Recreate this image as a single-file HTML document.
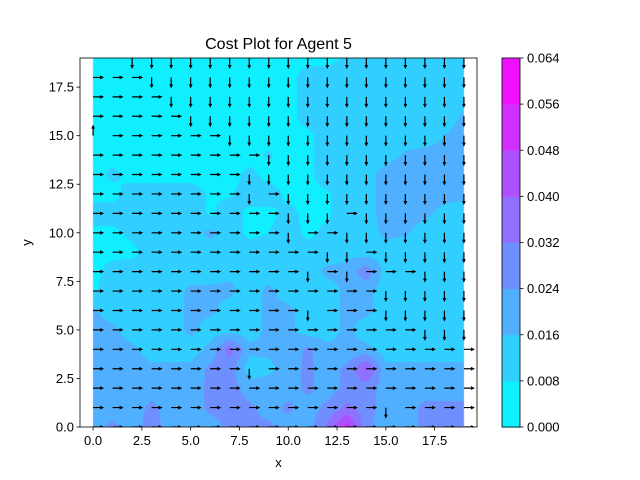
<!DOCTYPE html>
<html><head><meta charset="utf-8"><style>
body{margin:0;background:#fff;}
#wrap{position:relative;width:640px;height:480px;font-family:"Liberation Sans",sans-serif;}
canvas,svg{position:absolute;left:0;top:0;}
</style></head><body>
<div id="wrap">
<canvas id="cv" width="640" height="480"></canvas>
<svg id="sv" width="640" height="480"></svg>
</div>
<script>
// cost values (x1000), rows from y=19 (top) down to y=0
const costRows = [
[5,5,5,5,5,5,5,5,5,5,5,5,5,10,12,12,12,12,12,12],
[5,5,5,5,5,5,5,5,5,5,5,12,12,12,12,12,12,12,12,12],
[5,5,5,5,5,5,5,5,5,5,5,12,12,12,12,12,12,12,12,13],
[5,5,5,5,5,5,5,5,5,5,5,12,12,12,12,12,12,12,13,17],
[5,5,5,5,5,5,5,5,5,5,5,6,12,12,12,12,12,13,16,18],
[5,5,5,5,5,5,5,5,5,9,5,6,12,12,12,13,17,18,18,18],
[5,10,5,5,5,5,5,5,10,5,5,6,12,12,13,19,20,20,20,19],
[5,5,12,12,12,12,7,7,12,12,6,6,7,12,13,19,20,20,19,18],
[12,12,12,12,12,12,7,12,6,6,10,6,7,12,13,19,20,18,13,12],
[6,6,10,12,12,12,18,12,6,8,12,6,10,12,12,18,17,12,12,12],
[5,5,6,12,12,12,12,12,12,12,12,12,12,14,12,12,12,12,12,12],
[5,12,12,12,12,12,12,14,12,12,12,12,18,18,30,12,12,12,12,12],
[7,12,12,12,12,18,18,18,12,18,12,12,12,18,18,12,12,12,12,12],
[17,12,12,12,12,18,18,12,12,18,18,12,12,18,18,12,12,12,12,12],
[19,18,12,12,12,18,12,12,12,18,18,12,12,18,12,12,12,12,12,12],
[20,19,18,12,12,12,18,36,18,18,18,26,18,18,18,12,12,12,12,12],
[20,20,20,18,18,18,26,28,12,14,20,26,20,26,42,18,18,18,18,18],
[20,20,20,20,20,20,26,28,20,20,20,26,20,26,28,20,20,20,20,20],
[20,20,20,26,20,20,26,28,26,20,26,20,26,34,28,20,20,26,26,26],
[20,26,20,28,20,20,20,26,26,26,20,20,34,52,26,20,20,26,26,26]
];
// arrow directions, rows from y=19 down to y=0 (R right, D down, U up, . none)
const arrowRows = [
"..DDDDDDDDDDDDDDDDDD",
"RRRDDDDDDDDDDDDDDDDD",
"RRRRDDDDDDDDDDDDDDDD",
"RRRRRDDDDDDDDDDDDDDD",
"URRRRRRDDDDDDDDDDDDD",
"RRRRRRRRRDDDDDDDDDDD",
"RRRRRRRRDDDDDDDDDDDD",
"RRRRRRRRDRDDDDDDDDDD",
"RRRRRRRRRRDDDRDDDDDD",
"RRRRRRRRRRDRRDDDDDDD",
"RRRRRRRRRRRRDDRDDDDD",
"RRRRRRRRRRRDRDRRRDDD",
"RRRRRRRRRRRRRRRDDDDD",
"RRRRRRRRRRRDRRRDDDDD",
"RRRRRRRRRRRRRRRRRDDD",
"RRRRRRRRRRRRRRRRRRRR",
"RRRRRRRRDRRRRRRRRRRR",
"RRRRRRRRRRRRRRRRRRRR",
"RRRRRRRRRRRRRRRDRRRR",
"RRRRRRRRRRRRRRRRRRRR"
];
const levels = [0,8,16,24,32,40,48,56,64];
const xTicks = [0,2.5,5,7.5,10,12.5,15,17.5];
const yTicks = [0,2.5,5,7.5,10,12.5,15,17.5];
const cbTicks = ["0.000","0.008","0.016","0.024","0.032","0.040","0.048","0.056","0.064"];

const AX={l:80,r:477,t:58,b:427}, X0=-0.67, X1=19.67, Y0=0, Y1=19;
const sx=v=>AX.l+(v-X0)/(X1-X0)*(AX.r-AX.l);
const sy=v=>AX.b-(v-Y0)/(Y1-Y0)*(AX.b-AX.t);
function col(i){const t=(i+0.5)/8;return [Math.round(255*t),Math.round(255*(1-t)),255];}
function val(gx,gy){
  const n=costRows.length;
  const x0=Math.min(Math.floor(gx),18), y0=Math.min(Math.floor(gy),18);
  const fx=gx-x0, fy=gy-y0;
  const g=(x,y)=>costRows[n-1-y][x];
  return g(x0,y0)*(1-fx)*(1-fy)+g(x0+1,y0)*fx*(1-fy)+g(x0,y0+1)*(1-fx)*fy+g(x0+1,y0+1)*fx*fy;
}
const cv=document.getElementById('cv'), ctx=cv.getContext('2d');
const px0=Math.round(sx(0)), px1=Math.round(sx(19)), py0=Math.round(sy(19)), py1=Math.round(sy(0));
const img=ctx.createImageData(px1-px0,py1-py0);
for(let py=py0;py<py1;py++)for(let px=px0;px<px1;px++){
  const gx=Math.max(0,Math.min(19,(px+0.5-sx(0))/(sx(1)-sx(0))));
  const gy=Math.max(0,Math.min(19,(sy(0)-py-0.5)/(sy(0)-sy(1))));
  const v=val(gx,gy);
  let k=0;while(k<7&&v>=levels[k+1])k++;
  const c=col(k), o=((py-py0)*(px1-px0)+(px-px0))*4;
  img.data[o]=c[0];img.data[o+1]=c[1];img.data[o+2]=c[2];img.data[o+3]=255;
}
ctx.putImageData(img,px0,py0);
// colorbar
const CB={l:502,r:520,t:58,b:427};
for(let i=0;i<8;i++){const c=col(i);ctx.fillStyle=`rgb(${c})`;
  const y1=CB.b-(i+1)*(CB.b-CB.t)/8, y2=CB.b-i*(CB.b-CB.t)/8; ctx.fillRect(CB.l,y1,CB.r-CB.l,y2-y1+0.5);}

const NS='http://www.w3.org/2000/svg', sv=document.getElementById('sv');
function mk(tag,attrs,parent){const e=document.createElementNS(NS,tag);for(const k in attrs)e.setAttribute(k,attrs[k]);(parent||sv).appendChild(e);return e;}
const clip=mk('clipPath',{id:'cp'});mk('rect',{x:AX.l,y:AX.t,width:AX.r-AX.l,height:AX.b-AX.t},clip);
const ag=mk('g',{'clip-path':'url(#cp)'});


const L=11;
arrowRows.forEach((row,ri)=>{const y=19-ri;[...row].forEach((d,x)=>{
  if(d==='.')return;
  const ang={R:0,D:90,U:-90,L:180}[d];
  const p=mk('polygon',{points:`0,-0.6 ${L-4},-0.6 ${L-4},-1.9 ${L},0 ${L-4},1.9 ${L-4},0.6 0,0.6`,fill:'#000',
    transform:`translate(${sx(x)},${sy(y)}) rotate(${ang})`},ag);
  
  
});});
const fr=mk('rect',{x:AX.l,y:AX.t,width:AX.r-AX.l,height:AX.b-AX.t,fill:'none',stroke:'#000','stroke-width':0.8});

xTicks.forEach(t=>{const x=sx(t);mk('line',{x1:x,x2:x,y1:AX.b,y2:AX.b+3.5,stroke:'#000','stroke-width':0.8});
  const tx=mk('text',{x:x,y:AX.b+18,'text-anchor':'middle','font-size':13,fill:'#000'});tx.textContent=t.toFixed(1);
  });
yTicks.forEach(t=>{const y=sy(t);mk('line',{x1:AX.l,x2:AX.l-3.5,y1:y,y2:y,stroke:'#000','stroke-width':0.8});
  const tx=mk('text',{x:AX.l-6,y:y+4.5,'text-anchor':'end','font-size':13,fill:'#000'});tx.textContent=t.toFixed(1);
  });
const cbf=mk('rect',{x:CB.l,y:CB.t,width:CB.r-CB.l,height:CB.b-CB.t,fill:'none',stroke:'#000','stroke-width':0.8});

cbTicks.forEach((t,i)=>{const y=CB.b-i*(CB.b-CB.t)/8;mk('line',{x1:CB.r,x2:CB.r+3.5,y1:y,y2:y,stroke:'#000','stroke-width':0.8});
  const tx=mk('text',{x:CB.r+7,y:y+4.5,'font-size':13,fill:'#000'});tx.textContent=t;
  });
</script>
<svg width="640" height="480" style="position:absolute;left:0;top:0;pointer-events:none">
<text x="278.5" y="49" text-anchor="middle" font-size="16" font-family="Liberation Sans, sans-serif">Cost Plot for Agent 5</text>
<text x="278.5" y="467" text-anchor="middle" font-size="13" font-family="Liberation Sans, sans-serif">x</text>
<text x="31" y="242.5" text-anchor="middle" font-size="13" font-family="Liberation Sans, sans-serif" transform="rotate(-90 31 242.5)">y</text>
</svg>
</body></html>
